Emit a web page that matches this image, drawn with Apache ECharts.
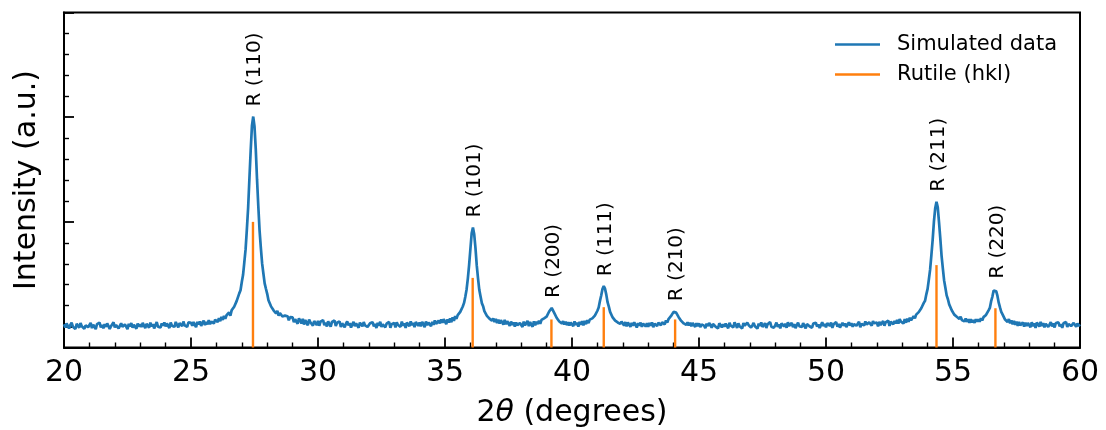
<!DOCTYPE html>
<html>
<head>
<meta charset="utf-8">
<script src="https://cdn.jsdelivr.net/npm/echarts@6/dist/echarts.min.js"></script>
<style>
  html, body { margin: 0; padding: 0; background: #ffffff; }
  #chart { width: 1106px; height: 430px; }
</style>
</head>
<body>
<div id="chart"></div>
<script>
// Simulated XRD scan: 2θ from 20° to 60° in 0.05° steps (one row per degree)
const scanStart = 20;
const scanStep = 0.05;
const intensity = [
  21, -10, 31, 7, -18, 16, 36, -1, 13, -23, 26, 7, -11, 33, 2, 19, -20, 11, 28, -6,
  9, 35, -15, 18, 1, -25, 24, 6, 38, -8, 14, -16, 23, -3, 30, 11, -22, 4, 19, 40,
  -7, 15, 27, -19, 7, 31, -2, -14, 20, 12, -24, 25, 2, 34, -10, 17, 8, -21, 29, 0,
  20, -4, 35, 8, -16, 26, 14, -11, 38, 2, 23, -18, 13, 43, -1, 18, -9, 31, 9, 40,
  2, 29, 17, -14, 39, 8, 24, -3, 44, 15, -9, 34, 20, 3, 48, 12, 29, -2, 41, 22,
  36, 8, 43, 15, -5, 46, 21, 49, 6, 34, 58, 14, 44, 22, 61, 24, 48, 67, 29, 66,
  73, 44, 80, 52, 92, 63, 103, 75, 108, 95, 135, 104, 155, 139, 190, 189, 245, 251, 317, 347,
  426, 494, 615, 739, 930, 1137, 1414, 1682, 1919, 2006, 1911, 1692, 1403, 1149, 917, 751, 603, 507, 413, 361,
  313, 252, 247, 193, 197, 155, 163, 125, 150, 103, 129, 112, 96, 80, 105, 87, 99, 60, 90, 74,
  88, 42, 70, 51, 27, 79, 56, 30, 74, 19, 63, 47, 12, 68, 41, 59, 9, 53, 36, 14,
  55, 8, 47, 29, 62, 14, 38, 1, 51, 33, -2, 44, 25, 58, 6, 36, 19, 49, -4, 31,
  40, -6, 27, 48, 12, 33, -9, 22, 45, 5, 30, 16, -11, 37, 20, 2, 43, 11, 28, -3,
  -10, 31, 18, 42, 1, 25, -14, 36, 9, 46, -4, 20, 39, -8, 28, 13, 44, -12, 23, 7,
  34, -7, 41, 15, 26, -2, 47, 10, 31, -12, 38, 21, 3, 49, 14, 35, -5, 43, 24, 8,
  40, 1, 45, 24, -6, 49, 13, 38, 55, 4, 44, 17, 58, 26, 9, 57, 30, 68, 37, 71,
  66, 24, 68, 38, 79, 41, 88, 54, 100, 74, 109, 113, 140, 153, 192, 226, 284, 355, 460, 590,
  741, 890, 946, 881, 749, 584, 461, 351, 287, 224, 195, 147, 143, 103, 114, 76, 92, 57, 78, 43,
  74, 33, 66, 28, 61, 50, 18, 64, 21, 52, 38, 7, 48, 17, 41, -1, 39, 14, -3, 33,
  42, -3, 47, 12, 33, 55, 4, 44, 18, -2, 50, 13, 46, 24, 57, 27, 64, 45, 79, 84,
  95, 104, 144, 158, 178, 166, 131, 117, 82, 79, 48, 62, 29, 51, 20, 45, 14, 42, 11, 39,
  44, 3, 49, 16, 37, -1, 45, 19, 52, 12, 54, 23, 60, 33, 66, 47, 78, 72, 104, 113,
  151, 181, 244, 297, 359, 386, 362, 305, 233, 190, 140, 124, 87, 86, 56, 68, 39, 55, 26, 48,
  50, 11, 43, 2, 39, 27, -3, 36, 8, 41, 24, -9, 33, 10, 38, -2, 29, 40, 1, 31,
  -2, 35, 9, 40, -6, 28, 41, 5, 36, 46, 12, 42, 50, 21, 59, 38, 72, 68, 101, 110,
  140, 147, 133, 119, 90, 78, 54, 60, 30, 48, 16, 40, 10, 36, 2, 33, 24, -3, 31, 4,
  31, -6, 20, 39, 9, -15, 27, 5, 35, 16, -11, 24, 42, 0, 18, -17, 32, 12, -8, 23,
  -2, 29, 14, -16, 36, 8, 21, -7, 40, 17, -13, 30, 4, 23, -18, 33, 10, -5, 38, 15,
  26, -10, 12, 35, 3, 19, -19, 28, 7, 39, -4, 15, 32, -14, 22, 8, 43, -1, 14, -11,
  11, 37, -3, 20, -17, 30, 13, 1, 27, -12, 41, 6, 17, 34, -6, 23, -15, 12, 38, 4,
  19, -5, 32, 9, -18, 24, 40, 3, 15, -11, 28, 10, 36, -1, 21, -14, 13, 42, 5, 26,
  -8, 33, 16, 6, 38, -13, 22, 11, 43, 0, 26, -10, 14, 36, 7, 30, -4, 18, 41, 9,
  32, -1, 24, 42, 8, 17, 46, -6, 27, 35, 10, 49, 20, 2, 40, 26, 9, 52, 31, 14,
  39, 2, 45, 15, 33, 53, 8, 40, 21, 57, 6, 46, 59, 22, 52, 31, 64, 29, 70, 47,
  62, 29, 70, 37, 75, 46, 84, 59, 78, 100, 80, 114, 104, 138, 134, 175, 178, 226, 246, 308,
  360, 451, 546, 684, 831, 1005, 1131, 1192, 1139, 996, 842, 676, 556, 441, 370, 298, 261, 212, 197, 156,
  156, 114, 124, 93, 104, 73, 95, 62, 81, 49, 78, 45, 70, 36, 69, 41, 63, 35, 70, 46,
  70, 46, 79, 59, 90, 80, 111, 114, 155, 178, 240, 285, 345, 362, 338, 293, 228, 183, 141, 117,
  108, 67, 80, 43, 72, 31, 58, 22, 53, 17, 47, 8, 44, 12, 4, 40, -1, 37, 7, 34,
  36, -6, 41, 5, 30, -12, 39, 20, -1, 44, 6, 33, -8, 27, 38, -3, 19, 42, 1, 29,
  -9, 34, 16, 40, 2, 23, -13, 31, 12, 43, -4, 25, 37, 5, -7, 35, 18, -2, 30, 8,
  21
];

// Rutile reference reflections
const hklLabels = ['R (110)', 'R (101)', 'R (200)', 'R (111)', 'R (210)', 'R (211)', 'R (220)'];
const hklPositions = [27.44, 36.09, 39.19, 41.25, 44.06, 54.35, 56.67];
const hklIntensity = [1000, 465, 68, 185, 68, 587, 175];

// Axis ranges and tick values
const xRange = [20, 60];
const xMajorStep = 5;
const yRange = [-200, 3000];
const yMajorTicks = [0, 1000, 2000, 3000];
const yMinorTicks = [200, 400, 600, 800, 1200, 1400, 1600, 1800, 2200, 2400, 2600, 2800];

const BLUE = '#1f77b4';
const ORANGE = '#ff7f0e';
const FONT = 'DejaVu Sans';

const scan = intensity.map((v, i) => [+(scanStart + i * scanStep).toFixed(2), v]);
const sticks = hklPositions.map((x, i) => [x, hklIntensity[i]]);

// label anchor: highest scan point near each reflection
function apexNear(x) {
  let best = -Infinity;
  scan.forEach(p => { if (Math.abs(p[0] - x) <= 0.1 && p[1] > best) best = p[1]; });
  return best;
}
const labelAnchors = hklPositions.map(x => [x, apexNear(x)]);

const chart = echarts.init(document.getElementById('chart'), null, { renderer: 'canvas' });

const gridBox = { left: 64, right: 26, top: 12.5, bottom: 82.5, outerBoundsMode: 'none', containLabel: false };
const tickStyle = { color: '#000', width: 1.8 };

chart.setOption({
  animation: false,
  backgroundColor: '#ffffff',
  textStyle: { fontFamily: FONT },
  grid: [
    Object.assign({ show: true, borderColor: '#000', borderWidth: 2, backgroundColor: 'transparent' }, gridBox),
    Object.assign({ show: false }, gridBox)
  ],
  legend: {
    orient: 'vertical',
    left: 830,
    top: 29,
    itemWidth: 45,
    itemHeight: 2.5,
    itemGap: 9,
    icon: 'rect',
    textStyle: { fontSize: 21, color: '#000', fontFamily: FONT, padding: [0, 0, 0, 12] },
    data: ['Simulated data', 'Rutile (hkl)']
  },
  xAxis: [
    {
      type: 'value', gridIndex: 0,
      min: xRange[0], max: xRange[1], interval: xMajorStep,
      axisLine: { show: true, onZero: false, lineStyle: { color: '#000', width: 2 } },
      axisTick: { show: true, inside: true, length: 10, lineStyle: tickStyle },
      minorTick: { show: true, splitNumber: 5, length: 5, lineStyle: { color: '#000', width: 1.4 } },
      axisLabel: { fontSize: 30, color: '#000', fontFamily: FONT, margin: 11 },
      splitLine: { show: false },
      name: '2{it|θ} (degrees)',
      nameLocation: 'middle',
      nameGap: 51,
      nameTextStyle: {
        fontSize: 30, color: '#000', fontFamily: FONT,
        rich: { it: { fontSize: 30, fontStyle: 'italic', color: '#000', fontFamily: FONT } }
      }
    },
    {
      type: 'value', gridIndex: 1, show: false,
      min: xRange[0], max: xRange[1]
    }
  ],
  yAxis: [
    {
      type: 'value', gridIndex: 0,
      min: yRange[0], max: yRange[1],
      axisLine: { show: true, onZero: false, lineStyle: { color: '#000', width: 2 } },
      axisTick: { show: true, inside: true, length: 10, lineStyle: tickStyle, customValues: yMajorTicks },
      axisLabel: { show: false },
      splitLine: { show: false },
      name: 'Intensity (a.u.)',
      nameLocation: 'middle',
      nameGap: 22,
      nameTextStyle: { fontSize: 30, color: '#000', fontFamily: FONT }
    },
    {
      type: 'value', gridIndex: 1,
      min: yRange[0], max: yRange[1],
      axisLine: { show: false, onZero: false },
      axisTick: { show: true, inside: true, length: 5, lineStyle: { color: '#000', width: 1.4 }, customValues: yMinorTicks },
      axisLabel: { show: false },
      splitLine: { show: false }
    }
  ],
  series: [
    {
      name: 'Simulated data',
      type: 'line',
      xAxisIndex: 0, yAxisIndex: 0,
      data: scan,
      symbol: 'none',
      showSymbol: false,
      sampling: false,
      lineStyle: { color: BLUE, width: 2.7 },
      itemStyle: { color: BLUE },
      z: 2
    },
    {
      name: 'Rutile (hkl)',
      type: 'custom',
      xAxisIndex: 0, yAxisIndex: 0,
      data: sticks,
      encode: { x: 0, y: 1 },
      itemStyle: { color: ORANGE },
      z: 3,
      renderItem(params, api) {
        const top = api.coord([api.value(0), api.value(1)]);
        const base = api.coord([api.value(0), yRange[0]]);
        return {
          type: 'line',
          shape: { x1: top[0], y1: top[1], x2: base[0], y2: base[1] },
          style: { stroke: ORANGE, lineWidth: 2.4 }
        };
      }
    },
    {
      name: 'hkl labels',
      type: 'custom',
      xAxisIndex: 0, yAxisIndex: 0,
      data: labelAnchors,
      encode: { x: 0, y: 1 },
      silent: true,
      z: 4,
      renderItem(params, api) {
        const p = api.coord([api.value(0), api.value(1)]);
        return {
          type: 'text',
          x: p[0] + 2,
          y: p[1] - 10,
          rotation: Math.PI / 2,
          style: {
            text: hklLabels[params.dataIndex],
            fill: '#000',
            font: '20px "DejaVu Sans"',
            align: 'left',
            verticalAlign: 'middle'
          }
        };
      }
    }
  ]
});
</script>
</body>
</html>
